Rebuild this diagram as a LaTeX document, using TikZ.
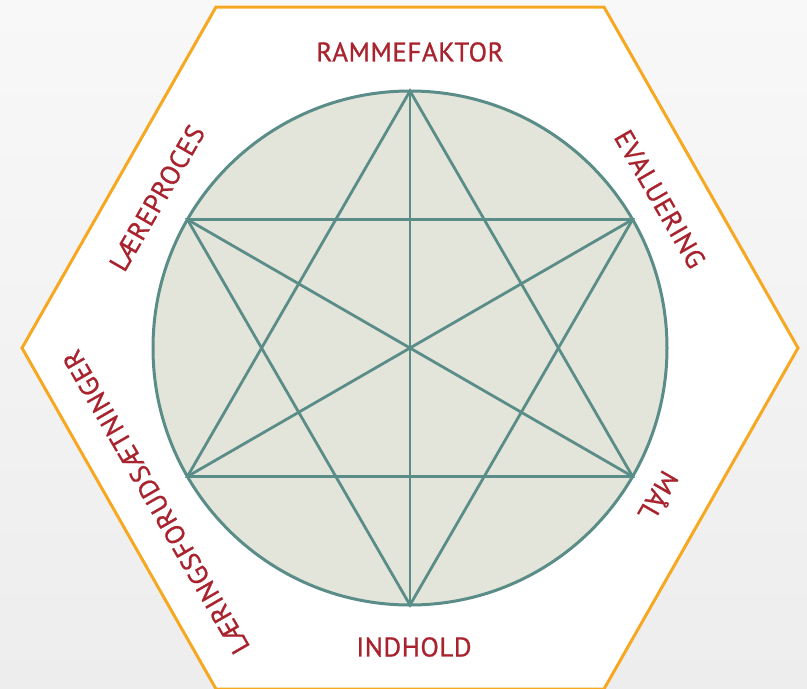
\documentclass[tikz,border=0pt]{standalone}
\usepackage{fontspec}
\setmainfont{PT Sans}[LetterSpace=2,FakeBold=0.8]
\definecolor{hexorange}{RGB}{247,168,35}
\definecolor{teal}{RGB}{90,140,136}
\definecolor{circfill}{RGB}{228,229,218}
\definecolor{labelred}{RGB}{168,35,45}
\begin{document}
\begin{tikzpicture}[x=1pt,y=-1pt,
  lbl/.style={text=labelred,font=\fontsize{27}{27}\selectfont,inner sep=0pt,anchor=center},
  starline/.style={draw=teal,line width=2.8pt}]
\useasboundingbox (0,0) rectangle (807,689);
\shade[top color={rgb,255:red,248;green,248;blue,248},bottom color={rgb,255:red,237;green,237;blue,237}] (0,0) rectangle (807,689);
\draw[hexorange,line width=3pt,fill=white,line join=miter]
  (216,7) -- (604,7) -- (798,348) -- (604,689) -- (216,689) -- (22,348) -- cycle;
\node[circle,draw=teal,fill=circfill,line width=3pt,minimum size=514pt,inner sep=0pt] (c) at (410,348) {};
\coordinate (T) at (410,91);
\coordinate (B) at (410,605);
\coordinate (UL) at (187.4,219.5);
\coordinate (UR) at (632.6,219.5);
\coordinate (LL) at (187.4,476.5);
\coordinate (LR) at (632.6,476.5);
\draw[starline,line join=miter] (T) -- (LL) -- (LR) -- cycle;
\draw[starline,line join=miter] (B) -- (UL) -- (UR) -- cycle;
\draw[starline] (T) -- (B);
\draw[starline] (UL) -- (LR);
\draw[starline] (UR) -- (LL);
\node[lbl] (rf) at (410,52) {RAMMEFAKTOR};
\node[lbl] (ind) at (414,647) {INDHOLD};
\node[lbl,rotate=60] (lp) at (157,198) {LÆREPROCES};
\node[lbl,rotate=-60] (ev) at (660,199) {EVALUERING};
\node[lbl,rotate=-120] (ml) at (660,497) {MÅL};
\node[lbl,rotate=120] (lf) at (156,502) {LÆRINGSFORUDSÆTNINGER};
\end{tikzpicture}
\end{document}
